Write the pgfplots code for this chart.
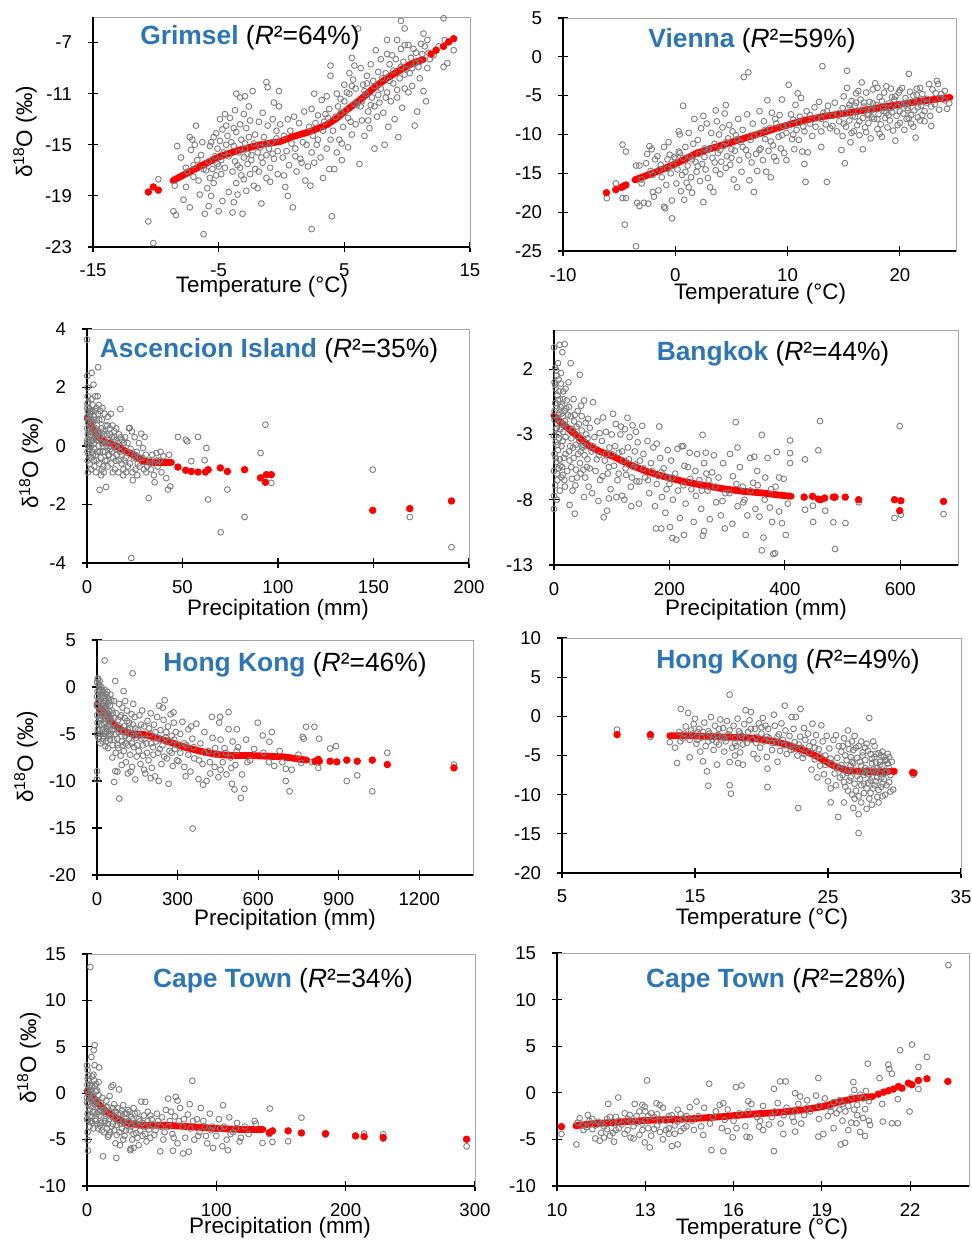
\documentclass[border=0pt]{standalone}
\usepackage{fontspec}
\setmainfont{Liberation Sans}
\usepackage{pgfplots}
\pgfplotsset{compat=1.18}
\definecolor{ttl}{RGB}{46,117,182}
\definecolor{ptgray}{RGB}{125,125,125}
\pgfplotsset{
  panel/.style={
    scale only axis, anchor=north west, clip=false,
    axis line style={black!35},
    tick pos=left, tick align=center, major tick length=5pt,
    major tick style={black, line width=0.6pt},
    tick label style={font=\fontsize{9.3}{11}\selectfont},
    xticklabel style={yshift=-2.5pt},
    yticklabel style={xshift=-4.5pt},
    /pgf/number format/assume math mode=true,
    /pgf/number format/1000 sep={},
  },
  gray pts/.style={only marks, mark=o, mark size=1.45pt,
    mark options={draw=ptgray, line width=0.45pt}},
  red dots/.style={only marks, mark=*, mark size=1.65pt, red},
  red line/.style={red, line width=3.4pt, line cap=round, line join=round, no markers},
}
\newcommand{\axlines}{\draw[black, line width=0.6pt] (rel axis cs:0,1) -- (rel axis cs:0,0) -- (rel axis cs:1,0);}
\newcommand{\ttlfont}{\fontsize{13.2}{15}\selectfont}
\newcommand{\labfont}{\fontsize{11.2}{13}\selectfont}
\begin{document}
\begin{tikzpicture}
\useasboundingbox (0,0) rectangle (486pt,-620pt);

% ---------- Grimsel ----------
\begin{axis}[panel, at={(46.5pt,-8.5pt)}, width=188.5pt, height=115pt,
  xmin=-15, xmax=15, xtick={-15,-5,5,15}, ymin=-23, ymax=-5, ytick={-23,-19,-15,-11,-7}]
\addplot[gray pts] coordinates {
(-10.6,-21.0) (-10.2,-22.7) (-9.8,-17.7) (-8.6,-20.2) (-8.4,-20.5) (-8.5,-18.2) (-8.3,-15.1) (-8.0,-16.0) (-7.8,-19.3) (-7.6,-18.3) (-7.5,-17.1) (-7.3,-19.9) (-7.2,-15.4) (-7.0,-16.6) (-7.3,-14.4) (-7.1,-14.6) (-6.8,-13.5) (-6.7,-16.2) (-6.6,-17.8) (-6.5,-18.9) (-6.4,-15.8) (-6.2,-16.9)
(-6.2,-22.0) (-6.1,-20.4) (-5.8,-19.8) (-5.6,-19.0) (-5.9,-18.4) (-5.4,-18.0) (-5.7,-17.6) (-5.2,-17.4) (-5.5,-16.9) (-5.0,-16.7) (-5.8,-16.3) (-4.8,-16.2) (-5.3,-15.9) (-4.6,-15.6) (-5.1,-15.3) (-4.4,-15.0) (-5.6,-14.8) (-4.9,-14.7) (-4.3,-14.3) (-5.2,-14.1) (-4.7,-13.8) (-4.4,-13.5) (-4.9,-13.0) (-4.5,-12.6) (-4.1,-12.9) (-5.0,-20.2) (-4.2,-18.7) (-4.7,-19.4)
(-3.9,-20.3) (-3.1,-20.4) (-3.8,-19.5) (-3.5,-18.9) (-2.8,-18.6) (-3.6,-18.0) (-3.0,-17.7) (-2.5,-17.3) (-3.9,-17.1) (-3.3,-16.8) (-2.7,-16.5) (-3.7,-16.3) (-3.0,-16.0) (-2.4,-15.8) (-3.4,-15.6) (-2.9,-15.3) (-3.8,-15.1) (-2.2,-14.9) (-3.2,-14.6) (-2.6,-14.4) (-3.6,-14.0) (-2.8,-13.7) (-3.3,-13.4) (-2.5,-13.1) (-3.0,-12.6) (-3.7,-12.3) (-3.3,-11.3) (-3.6,-11.0) (-2.9,-11.2) (-2.6,-12.0) (-2.3,-10.8) (-2.1,-16.9) (-2.2,-18.2)
(-1.6,-19.6) (-1.9,-18.4) (-1.2,-17.6) (-1.8,-17.1) (-0.9,-16.8) (-1.5,-16.4) (-0.6,-16.1) (-1.2,-15.8) (-0.3,-15.5) (-1.7,-15.2) (-0.8,-14.8) (-1.4,-14.4) (-0.4,-13.9) (-1.1,-13.5) (-0.7,-13.0) (-1.5,-12.5) (-0.2,-12.0) (-1.2,-10.1) (-1.1,-10.5) (-0.2,-10.8) (-0.6,-11.7) (-1.8,-13.2) (-0.9,-17.9) (-0.3,-17.3)
(0.3,-18.3) (0.5,-19.0) (0.9,-19.9) (0.2,-17.4) (1.2,-17.1) (0.6,-16.6) (1.5,-16.1) (0.4,-15.5) (1.1,-15.3) (1.7,-14.8) (0.7,-13.9) (1.4,-13.3) (1.0,-12.8) (1.8,-12.4) (0.1,-16.0) (1.9,-17.8)
(2.4,-21.6) (4.0,-20.6) (2.3,-18.2) (3.3,-17.6) (3.8,-16.9) (2.6,-16.4) (3.1,-16.0) (2.4,-15.6) (3.6,-15.3) (2.8,-15.0) (3.9,-14.6) (2.5,-14.3) (3.3,-13.9) (2.7,-13.3) (3.5,-12.6) (2.4,-12.2) (3.2,-11.5) (2.6,-11.0) (3.9,-9.6) (3.9,-8.8) (3.7,-12.9) (2.9,-12.7) (3.6,-11.2) (2.1,-16.7)
(4.2,-16.9) (4.8,-16.2) (4.4,-15.6) (5.3,-15.2) (4.6,-14.6) (5.6,-14.2) (4.9,-13.6) (5.5,-13.2) (4.3,-12.8) (5.1,-12.3) (5.8,-11.8) (4.7,-11.4) (5.4,-11.0) (5.9,-10.6) (5.0,-10.3) (5.7,-9.9) (5.4,-9.4) (5.8,-8.8) (5.6,-8.2) (6.1,-5.9) (4.5,-12.0) (5.2,-10.9)
(6.2,-16.5) (7.4,-15.3) (6.6,-14.3) (7.0,-13.7) (6.4,-13.1) (7.6,-12.8) (6.9,-12.4) (6.3,-12.0) (7.8,-11.7) (7.2,-11.3) (6.7,-11.0) (7.9,-10.6) (6.5,-10.3) (7.3,-10.0) (6.8,-9.6) (7.7,-9.3) (6.3,-9.0) (7.1,-8.7) (7.9,-8.3) (7.5,-7.6) (6.6,-10.8) (7.4,-12.0)
(8.2,-15.0) (9.3,-14.4) (8.5,-13.6) (9.0,-13.0) (8.1,-12.5) (9.6,-12.1) (8.7,-11.6) (9.2,-11.3) (8.4,-10.9) (9.8,-10.6) (8.9,-10.2) (9.4,-9.8) (8.3,-9.4) (9.9,-9.1) (8.6,-8.7) (9.1,-8.3) (8.4,-7.9) (9.5,-7.5) (8.4,-6.8) (9.2,-6.8) (9.8,-7.2) (9.5,-5.3) (9.8,-5.9) (8.8,-8.0) (9.7,-8.5)
(10.6,-13.5) (10.8,-12.4) (11.5,-11.6) (11.3,-10.8) (10.4,-10.4) (11.0,-9.8) (10.2,-9.4) (11.6,-9.0) (10.7,-8.6) (10.3,-8.2) (11.2,-7.9) (10.5,-7.5) (11.1,-7.1) (11.6,-6.8) (11.3,-6.3) (10.9,-8.9) (11.8,-8.3)
(12.1,-8.0) (12.9,-8.9) (13.2,-8.6) (13.7,-7.6) (12.5,-7.3) (13.0,-6.8) (12.9,-5.1)
(-7.6,-16.8) (-7.0,-17.5) (-6.9,-15.0) (-6.3,-14.8) (-6.0,-17.0) (-5.7,-15.1) (-5.4,-14.4) (-5.1,-16.5) (-4.8,-17.3) (-4.5,-16.8) (-4.2,-15.9) (-4.0,-14.8) (-3.8,-13.7) (-3.5,-16.6) (-3.2,-17.4) (-2.9,-14.9) (-2.7,-15.7) (-2.4,-16.2) (-2.1,-14.2) (-1.9,-15.6) (-1.6,-16.0) (-1.3,-14.9) (-1.0,-15.3) (-0.7,-15.7) (-0.4,-14.5) (-0.1,-13.4) (0.2,-14.3) (0.5,-13.0) (0.8,-14.9) (1.1,-15.9) (1.6,-16.4) (2.0,-15.0) (2.2,-13.6) (2.9,-14.6) (3.4,-13.2) (3.8,-12.2) (4.1,-13.9) (4.4,-11.0) (4.7,-12.5) (5.0,-11.6) (5.3,-12.9) (5.6,-10.4) (6.0,-11.9) (6.4,-11.6) (6.8,-10.2) (7.1,-11.9) (7.4,-10.4) (7.7,-11.1) (8.0,-9.8) (8.3,-11.3) (8.6,-10.0) (8.9,-9.2) (9.2,-10.7) (9.5,-8.9) (9.8,-9.5) (10.1,-10.9) (10.4,-9.0) (10.7,-7.8) (11.0,-8.5) (11.4,-7.3) (11.7,-7.8) (10.1,-7.2) (6.9,-13.1) (5.9,-13.4) (4.8,-14.9)
};
\addplot[red line] coordinates {
(-8.63,-17.8) (-6.5,-16.7) (-4.91,-15.92) (-3.32,-15.4) (-1.73,-15.01) (-0.13,-14.75) (0.93,-14.36) (2.26,-13.97) (3.58,-13.45) (4.38,-12.93) (5.18,-12.28) (6.24,-11.5) (7.3,-10.59) (8.36,-9.81) (9.42,-9.16) (10.48,-8.59) (11.28,-8.33)
};
\addplot[red dots] coordinates {
(-10.6,-18.7) (-10.2,-18.3) (-9.8,-18.55) (11.9,-7.9) (12.3,-7.6) (12.9,-7.3) (13.3,-6.95) (13.7,-6.7)
};
\axlines
\end{axis}

% ---------- Vienna ----------
\begin{axis}[panel, at={(281.5pt,-9pt)}, width=196.5pt, height=116.5pt,
  xmin=-10, xmax=25, xtick={-10,0,10,20}, ymin=-25, ymax=5, ytick={-25,-20,...,5}]
\addplot[gray pts] coordinates {
(-6.1,-18.2) (-5.3,-16.3) (-4.7,-11.3) (-4.4,-12.2) (-4.7,-18.2) (-4.4,-18.2) (-4.5,-21.6) (-3.5,-24.4) (-3.5,-14.0) (-3.2,-14.0) (-3.4,-18.8) (-3.2,-19.2) (-3.0,-15.8) (-3.0,-16.3)
(-2.8,-18.8) (-2.4,-18.9) (-2.5,-12.5) (-2.3,-11.5) (-2.1,-11.9) (-2.6,-13.7) (-2.2,-14.7) (-2.0,-17.4) (-1.9,-18.0) (-1.8,-13.2) (-1.6,-12.8) (-1.4,-14.5) (-1.2,-15.5) (-1.0,-11.6) (-0.9,-19.5) (-1.0,-19.3) (-0.8,-16.5) (-0.7,-13.2) (-0.5,-12.6) (-0.6,-11.0) (-0.4,-15.0) (-0.3,-20.8) (-0.3,-18.5) (-0.2,-14.0) (-0.1,-12.9) (-1.5,-17.2) (-2.0,-15.2)
(0.1,-16.3) (0.2,-14.5) (0.3,-12.2) (0.4,-10.0) (0.5,-17.3) (0.6,-15.2) (0.7,-6.3) (0.7,-13.0) (0.8,-18.4) (0.9,-11.6) (1.0,-16.2) (1.1,-14.0) (1.2,-9.8) (1.3,-12.8) (1.4,-15.5) (1.5,-17.5) (1.6,-11.2) (1.7,-8.0) (1.8,-13.5) (1.9,-14.8) (2.0,-10.7) (2.1,-12.5) (2.2,-16.0) (2.3,-9.2) (2.4,-13.8) (2.5,-18.7) (2.6,-11.8) (2.7,-14.5) (2.8,-8.6) (2.9,-12.0) (2.9,-15.6) (1.2,-16.8) (0.3,-9.6) (2.5,-7.6)
(3.1,-16.8) (3.2,-9.8) (3.3,-13.0) (3.4,-17.4) (3.5,-11.2) (3.6,-14.6) (3.7,-8.3) (3.8,-12.4) (3.9,-10.0) (4.0,-15.1) (4.1,-13.5) (4.2,-9.1) (4.3,-11.5) (4.4,-7.3) (4.5,-14.3) (4.6,-12.8) (4.7,-10.5) (4.8,-8.8) (4.9,-13.9) (5.0,-11.9) (5.1,-9.6) (5.2,-15.8) (5.3,-12.1) (5.4,-10.1) (5.5,-16.8) (5.6,-8.0) (5.7,-13.3) (5.8,-11.0) (5.9,-14.8) (6.0,-9.4) (6.1,-2.6) (6.3,-12.0) (6.4,-7.4) (6.5,-2.0) (6.6,-15.9) (6.7,-10.7) (6.8,-13.6) (7.0,-17.4) (6.9,-8.6) (3.6,-6.9) (4.5,-6.2)
(7.2,-12.5) (7.3,-14.7) (7.4,-9.9) (7.5,-7.0) (7.6,-11.8) (7.8,-13.3) (7.9,-8.3) (8.0,-10.6) (8.1,-14.8) (8.2,-5.6) (8.3,-12.1) (8.4,-9.2) (8.5,-15.5) (8.6,-7.2) (8.7,-11.4) (8.8,-12.9) (8.9,-8.0) (9.0,-13.4) (9.2,-10.3) (9.3,-7.5) (9.4,-11.8) (9.5,-5.5) (9.6,-8.9) (9.7,-12.4) (9.9,-9.8) (9.9,-13.3) (10.1,-3.6) (10.3,-7.4) (10.4,-10.6)
(10.5,-8.1) (10.6,-11.9) (10.7,-6.2) (10.8,-9.4) (10.9,-4.7) (11.0,-10.7) (11.1,-7.7) (11.2,-5.3) (11.3,-12.2) (11.4,-9.0) (11.5,-13.8) (11.6,-16.1) (11.7,-7.0) (11.8,-12.3) (12.0,-8.6) (12.2,-10.2) (12.4,-6.5) (12.6,-7.9) (12.8,-5.8) (13.0,-11.6) (13.1,-1.2) (13.0,-9.6) (13.2,-7.2) (13.4,-8.7) (13.5,-16.1) (13.6,-6.3) (13.8,-9.2) (14.0,-7.6) (14.2,-5.9) (14.4,-9.6) (14.6,-8.3) (14.8,-12.0) (14.9,-6.6) (14.9,-10.2)
(15.0,-5.1) (15.1,-7.3) (15.1,-13.7) (15.2,-9.0) (15.3,-1.8) (15.3,-4.0) (15.4,-6.6) (15.5,-8.2) (15.6,-11.0) (15.7,-5.7) (15.8,-7.6) (15.9,-9.6) (16.0,-6.3) (16.1,-4.7) (16.2,-8.8) (16.3,-7.0) (16.4,-10.1) (16.5,-5.5) (16.6,-3.3) (16.7,-7.9) (16.7,-11.9) (16.8,-6.4) (16.9,-9.1) (17.0,-4.6) (17.1,-7.3) (17.2,-8.5) (17.3,-5.8) (17.4,-10.5) (17.5,-6.9) (17.6,-4.2) (17.7,-8.0) (17.8,-3.4) (17.9,-6.2) (18.0,-9.3) (18.1,-7.4) (18.2,-5.2) (18.3,-8.7) (18.4,-10.3) (18.5,-6.6) (18.6,-4.6) (18.7,-7.9) (18.8,-3.8) (18.9,-9.1) (19.0,-6.0) (19.1,-8.2) (19.2,-4.1) (19.3,-7.1) (19.4,-9.5) (19.5,-5.5) (19.6,-10.8) (19.7,-7.6) (19.8,-6.4) (19.9,-4.6) (20.0,-8.5)
(20.1,-6.1) (20.2,-4.0) (20.3,-7.3) (20.4,-9.4) (20.5,-5.3) (20.6,-8.0) (20.7,-6.6) (20.8,-2.2) (20.9,-4.5) (21.0,-7.5) (21.1,-5.8) (21.2,-9.0) (21.3,-6.9) (21.4,-10.4) (21.5,-4.1) (21.6,-7.8) (21.7,-5.6) (21.8,-8.2) (21.9,-6.3) (22.0,-4.8) (22.2,-7.0) (22.4,-5.4) (22.6,-3.5) (22.7,-7.6) (22.8,-8.9) (22.9,-4.2) (23.1,-6.1) (23.3,-3.1) (23.4,-3.5) (23.5,-6.8) (23.7,-4.8) (24.0,-5.6) (24.4,-6.0) (24.2,-6.7) (21.5,-4.9) (20.6,-5.9) (19.3,-5.2) (18.6,-7.0) (17.4,-6.8) (16.1,-5.9)
(-1.3,-13.9) (-0.7,-14.4) (0.0,-13.1) (0.4,-12.4) (0.9,-14.8) (1.5,-13.2) (2.0,-14.1) (2.6,-12.9) (3.0,-11.8) (3.5,-13.6) (4.0,-12.0) (4.5,-11.0) (5.0,-13.0) (5.5,-10.6) (6.0,-11.6) (6.5,-12.7) (7.0,-10.2) (7.5,-12.0) (8.0,-9.4) (8.5,-10.9) (9.0,-8.6) (9.5,-10.1) (10.0,-8.8) (10.5,-10.0) (11.0,-8.5) (11.5,-9.6) (12.0,-7.5) (12.5,-9.0) (13.0,-8.0) (13.5,-7.0) (14.0,-8.9) (14.5,-7.3) (15.0,-8.6) (15.5,-6.2) (16.0,-7.7) (16.4,-8.3) (16.8,-5.9) (17.2,-7.5) (17.6,-6.0) (18.0,-8.0) (18.4,-5.7) (18.8,-7.2) (19.2,-6.6) (19.6,-5.1) (20.0,-7.0) (20.4,-6.0) (20.8,-7.9) (21.2,-5.0) (21.6,-6.5) (22.0,-7.5) (22.4,-5.9) (22.8,-6.4) (23.2,-4.7) (23.6,-5.3) (24.0,-4.4) (17.0,-9.7) (18.2,-9.9) (19.8,-8.8) (21.0,-8.6) (22.2,-8.3) (15.7,-9.8) (16.3,-4.4) (18.0,-4.0) (20.0,-4.3) (21.8,-4.0) (17.5,-7.8) (19.0,-7.5) (20.7,-6.9)
};
\addplot[red line] coordinates {
(-3.6,-15.84) (-1.67,-14.8) (0.15,-13.7) (1.9,-12.4) (4.3,-11.3) (6.67,-10.26) (9.05,-9.18) (11.43,-8.19) (13.2,-7.68) (16.2,-7.03) (19.17,-6.3) (22.14,-5.66) (24.46,-5.23)
};
\addplot[red dots] coordinates {
(-6.13,-17.5) (-5.3,-17.1) (-4.79,-16.8) (-4.64,-16.7) (-4.4,-16.5)
};
\axlines
\end{axis}

% ---------- Ascencion Island ----------
\begin{axis}[panel, at={(43.5pt,-164.5pt)}, width=191pt, height=117pt,
  xmin=0, xmax=200, xtick={0,50,...,200}, ymin=-4, ymax=4, ytick={-4,-2,...,4}]
\addplot[gray pts] coordinates {
(0,3.64) (0.2,2.4) (0.3,2.0) (0.4,1.7) (0.2,1.45) (0.5,1.2) (0.3,1.0) (0.6,0.8) (0.1,0.6) (0.4,0.4) (0.2,0.2) (0.5,0.0) (0.3,-0.2) (0.1,0.1) (0.5,-0.9) (0.8,0.9) (1.0,1.3) (1.2,0.5) (1.1,0.2) (1.3,-0.1) (1.5,0.7) (1.7,1.1) (1.6,0.3) (1.9,-0.4) (2.0,0.9) (2.2,0.0) (2.3,1.6) (2.5,2.5) (2.4,0.5) (2.7,-0.2) (2.9,0.8) (3.0,1.4) (3.2,0.2) (3.4,2.1) (3.5,-0.5) (3.6,0.6) (3.8,1.0) (4.0,-0.1) (4.1,0.4) (4.3,1.7) (4.5,0.9) (4.7,-0.3) (4.8,0.2) (5.0,1.3) (5.8,2.69) (5.3,0.7) (5.5,-0.2) (5.7,0.5) (5.9,1.1)
(6.1,0.0) (6.3,-0.6) (6.6,-1.5) (6.4,0.9) (6.8,0.3) (7.0,1.2) (7.2,-0.4) (7.5,0.6) (7.7,-0.8) (7.9,0.1) (8.1,1.3) (8.3,-0.2) (8.6,0.5) (8.8,-0.9) (9.0,0.2) (9.2,1.1) (9.5,-0.5) (9.7,0.7) (10.0,-1.4) (10.2,0.0) (10.5,0.4) (10.8,-0.7) (11.0,1.0) (11.3,0.2) (11.6,-0.3) (11.9,0.6) (12.2,-0.1) (12.5,1.1) (12.8,-0.6) (13.1,0.3) (13.4,0.7) (13.7,-0.4) (14.0,0.0) (14.3,0.5) (14.6,-0.8) (14.9,0.2)
(15.3,0.6) (15.6,-0.3) (16.0,0.1) (16.4,-0.9) (16.8,0.4) (17.5,1.26) (17.2,-0.2) (17.7,0.3) (18.1,-0.6) (18.5,0.2) (18.9,-1.0) (19.3,0.1) (19.6,-0.5) (20.0,0.3) (20.5,-0.9) (21.0,-0.2) (21.5,-0.7) (22.0,0.6) (22.3,0.62) (22.8,-0.1) (23.2,-3.83) (23.5,0.5) (24.0,-1.17) (24.4,-0.4) (24.9,0.3) (25.4,-0.8) (26.0,-0.2) (26.6,-0.6) (27.2,0.1) (27.8,-0.4) (28.4,0.42) (29.3,-0.07) (29.8,-0.8) (30.2,0.31)
(30.8,-0.3) (31.5,-0.7) (32.3,-1.78) (32.9,-0.5) (33.5,-0.8) (34.2,-0.3) (35.0,-1.0) (35.4,-1.24) (36.3,-0.24) (37.0,-0.7) (38.1,-0.5) (39.0,-0.9) (40.0,-0.35) (41.5,-1.1) (42.4,-1.49) (43.0,-0.3) (43.6,-1.38) (47.6,0.31) (51.7,0.22) (52.5,0.16) (54.6,-0.52) (58.1,0.31) (61.6,-0.49) (62.5,-0.07) (63.4,-1.83) (70.0,-2.95) (73.5,-1.49) (82.5,-2.43) (90.9,-0.24) (93.4,0.73) (96.5,-1.26) (149.6,-0.81) (169,-2.43) (190.8,-3.46)
(0.1,1.3) (0.3,-0.5) (0.6,0.0) (0.7,1.5) (0.9,-0.3) (1.0,0.5) (1.4,1.0) (1.5,-0.6) (1.8,0.4) (2.1,1.2) (2.2,-0.8) (2.6,0.2) (2.8,1.2) (3.1,-0.3) (3.3,0.9) (3.7,0.1) (3.9,-0.7) (4.2,1.2) (4.4,0.3) (4.6,-0.9) (4.9,0.6) (5.1,-0.5) (5.4,0.3) (5.6,1.7) (6.0,0.5) (6.2,1.4) (6.7,-0.2) (7.1,0.4) (7.4,-1.0) (7.8,0.9) (8.2,0.0) (8.5,-0.7) (8.9,0.4) (9.3,-0.2) (9.8,0.1) (10.3,-0.5) (10.7,0.7) (11.2,-0.3) (11.8,0.0) (12.3,0.4) (12.9,-0.2) (13.5,-0.9) (14.2,0.3) (15.0,-0.5) (15.8,-0.1) (16.6,-0.5) (17.4,0.0) (18.3,-0.3) (19.1,-0.8) (20.2,-0.4) (21.2,0.1) (22.5,-0.6) (23.8,-0.9) (25.0,-0.3) (26.3,-1.0) (27.5,-0.7) (29.0,-0.4) (31.0,-0.9) (33.0,-0.6) (36.5,-0.5) (38.5,-0.2)
};
\addplot[red line] coordinates {
(0,0.96) (2.3,0.67) (4.9,0.39) (8.4,0.16) (13.6,0.05) (18.8,-0.13) (24.1,-0.3) (29.3,-0.52) (34.6,-0.56) (44.2,-0.56)
};
\addplot[red dots] coordinates {
(47.6,-0.72) (51.7,-0.83) (54.6,-0.87) (58.1,-0.89) (62,-0.89) (63.4,-0.81) (69.8,-0.75) (73.5,-0.87) (82.5,-0.81) (90.8,-1.09) (93.4,-1.24) (93.9,-0.98) (96.5,-0.98) (149.6,-2.2) (169,-2.14) (190.8,-1.88)
};
\axlines
\end{axis}

% ---------- Bangkok ----------
\begin{axis}[panel, at={(277pt,-165pt)}, width=202pt, height=117.5pt,
  xmin=0, xmax=700, xtick={0,200,400,600}, ymin=-13, ymax=5, ytick={-13,-8,-3,2}]
\addplot[gray pts] coordinates {
(0,3.66) (9.8,3.86) (18.5,3.91) (14.5,3.3) (7,2.46) (2,2.1) (5,1.5) (1,1.0) (8,1.2) (12,0.9) (3,0.5) (16,0.3) (6,0.0) (10,-0.3) (2,-0.6) (14,-0.8) (4,-1.0) (18,-1.2) (8,-1.5) (1,-1.9) (12,-2.2) (5,-2.5) (16,-2.8) (0,-3.1) (9,-3.3) (3,-3.6) (13,-3.9) (7,-4.2) (1,-4.5) (17,-4.8) (4,-5.1) (11,-5.4) (0,-5.8) (15,-6.1) (6,-6.5) (2,-6.9) (10,-7.3) (0,-7.7) (5,-8.0) (0,-8.7) (19,-7.0) (13,-6.3) (20,-4.5) (19,-2.0) (6,-3.8) (11,-0.9) (3,-2.6) (15,-1.6) (8,-5.6) (20,0.5) (22,-0.4) (25,1.0) (24,-1.5)
(28.9,2.46) (44.6,1.57) (27,-8.4) (36,-9.07) (52,-7.8) (25,-2.5) (30,-3.3) (33,-4.0) (27,-5.0) (38,-5.7) (31,-6.4) (35,-2.0) (40,-3.1) (42,-4.5) (45,-5.2) (37,-6.9) (48,-2.7) (50,-3.8) (53,-4.6) (46,-6.0) (55,-2.1) (57,-5.5) (41,-1.2) (34,-0.3) (29,-1.6) (58,-3.3) (60,-7.0) (49,-4.0) (44,-3.5) (32,-7.3) (26,-4.3) (39,-2.4) (54,-6.3) (59,-1.8) (47,-0.8) (52,-0.4) (56,-3.0)
(67.7,-0.53) (102.4,-1.42) (127.3,-1.72) (86,-9.35) (92,-8.84) (134,-8.5) (62,-2.5) (65,-4.3) (70,-3.2) (72,-5.8) (75,-2.0) (78,-4.6) (80,-6.5) (83,-3.5) (85,-1.7) (88,-5.0) (90,-2.8) (93,-6.0) (96,-4.0) (98,-7.2) (100,-3.0) (104,-5.4) (107,-2.2) (110,-6.5) (112,-4.4) (115,-3.0) (118,-7.7) (120,-5.0) (123,-2.6) (125,-6.1) (128,-4.0) (131,-3.2) (133,-7.0) (136,-2.3) (138,-5.5) (140,-4.3) (143,-6.6) (145,-3.6) (147,-8.3) (149,-5.0) (66,-7.5) (77,-8.1) (95,-7.9) (108,-7.8) (116,-2.4) (142,-2.8) (122,-8.0)
(152.8,-2.34) (182.3,-2.39) (257.5,-3.03) (176.5,-10.2) (186,-10.2) (201,-10.1) (205,-10.93) (212,-11.06) (225,-10.7) (260,-10.4) (257.5,-10.75) (296,-10.2) (155,-4.5) (158,-6.3) (162,-3.5) (165,-7.5) (168,-5.2) (172,-4.0) (175,-8.5) (178,-3.7) (181,-6.2) (184,-4.8) (187,-7.8) (190,-5.6) (193,-9.0) (197,-4.2) (200,-6.8) (203,-5.0) (206,-8.0) (210,-6.0) (214,-4.1) (218,-9.4) (221,-3.9) (224,-6.9) (228,-8.3) (232,-5.5) (235,-4.4) (238,-7.2) (242,-9.7) (245,-5.8) (248,-4.5) (252,-6.5) (255,-8.7) (260,-5.2) (263,-4.4) (266,-7.3) (270,-9.5) (274,-5.9) (277,-4.6) (281,-8.2) (285,-6.3) (289,-9.2) (293,-5.2) (297,-7.5) (224,-3.9) (264,-6.0) (197,-6.3)
(314.8,-2.06) (360,-3.03) (386,-4.35) (409,-3.46) (409,-4.43) (409,-5.19) (401.6,-10.7) (380,-12.16) (383,-12.1) (360,-11.88) (363,-10.9) (332,-10.7) (309,-9.84) (305,-4.5) (310,-6.2) (318,-8.5) (322,-5.5) (327,-7.0) (335,-9.2) (340,-4.8) (345,-6.7) (349,-8.7) (352,-5.8) (356,-9.3) (366,-6.3) (370,-4.8) (374,-8.6) (378,-9.7) (384,-7.0) (390,-8.9) (395,-9.8) (398,-6.4) (405,-8.3) (347,-4.7) (318,-4.0) (330,-8.0)
(435,-4.91) (458,-4.22) (461,-1.98) (435,-8.77) (448.5,-8.46) (449,-9.7) (470,-8.84) (484,-9.73) (505,-9.79) (487,-11.78) (528,-8.2) (590,-9.4) (601,-9.15) (599,-2.36) (675,-9.1)
(1,-1.2) (2,0.8) (3,-4.8) (4,1.9) (5,-6.0) (6,-1.8) (7,-0.4) (8,-3.0) (9,0.3) (10,-4.9) (11,-2.6) (12,1.7) (13,-1.4) (14,-5.5) (15,-3.5) (16,-0.3) (17,-2.2) (18,-6.5) (20,-3.2) (21,-1.0) (23,-5.8) (26,-0.9) (28,-3.9) (30,-5.5) (32,-2.6) (34,-4.8) (36,-1.5) (38,-3.8) (40,-6.3) (43,-2.2) (46,-4.3) (48,-1.6) (51,-5.7) (55,-3.9) (58,-4.9) (62,-5.6) (68,-3.9) (74,-4.9) (79,-2.9) (84,-6.2) (90,-4.5) (95,-5.5) (100,-4.5) (106,-3.9) (112,-6.0) (118,-4.3) (124,-5.6) (130,-4.9) (135,-6.3) (141,-5.3) (148,-6.6) (155,-5.6) (163,-6.5) (170,-5.8) (178,-6.8) (186,-5.9) (195,-7.2) (205,-6.3) (215,-7.3) (226,-5.4) (236,-6.4) (246,-7.7) (256,-7.3) (268,-6.5) (280,-7.0) (292,-8.1) (304,-7.5) (316,-6.8) (328,-8.2) (340,-7.3) (353,-6.9) (365,-8.0) (376,-7.2) (390,-6.3)
};
\addplot[red line] coordinates {
(0,-1.57) (12.7,-2.13) (27.2,-2.64) (44.6,-3.28) (61.9,-3.92) (79.3,-4.3) (102.4,-4.68) (131.4,-5.32) (160.3,-5.83) (189.2,-6.21) (224,-6.6) (258.7,-6.9) (293.4,-7.16) (328,-7.36) (362.8,-7.49) (386,-7.62) (411,-7.74)
};
\addplot[red dots] coordinates {
(433.4,-7.8) (448,-7.74) (458,-7.95) (462,-8.0) (469,-7.87) (484,-7.8) (487,-7.8) (504.6,-7.8) (527.8,-8.0) (590,-8.0) (601,-8.08) (599,-8.84) (675,-8.13)
};
\axlines
\end{axis}

% ---------- Hong Kong (precipitation) ----------
\begin{axis}[panel, at={(48.5pt,-320pt)}, width=188pt, height=117.5pt,
  xmin=0, xmax=1400, xtick={0,300,...,1200}, ymin=-20, ymax=5, ytick={-20,-15,...,5}]
\addplot[gray pts] coordinates {
(0,0.5) (2,-0.5) (4,0.8) (6,-1.5) (8,0.2) (10,-2.5) (12,-0.8) (14,-3.5) (16,0.0) (18,-1.8) (20,-4.5) (22,-1.0) (24,-2.8) (26,-5.2) (28.5,2.83) (28,-0.3) (30,-3.8) (32,-1.5) (34,-5.8) (36,-2.3) (38,-0.5) (40,-4.2) (42,-1.2) (44,-3.0) (46,-5.0) (48,-2.0) (50,-0.8) (1,-3.0) (3,-4.5) (5,-2.0) (7,-5.5) (9,-3.3) (11,-1.2) (13,-6.0) (15,-2.2) (17,-4.0) (19,-0.3) (21,-5.8) (23,-3.0) (25,-1.7) (27,-4.8) (29,-2.6) (31,-6.3) (33,-3.4) (35,-0.8) (37,-4.7) (39,-2.9) (41,-6.5) (43,-3.6) (45,-1.5) (47,-4.3) (49,-3.2) (0,-8.96) (0,-9.84) (0,-5.0) (0,-2.0) (3,0.9) (6,0.3) (10,0.6)
(68,0.63) (99,-0.43) (132.6,1.45) (68,-8.96) (64,-10.1) (83,-11.87) (52,-5.0) (55,-2.5) (58,-6.2) (60,-3.8) (63,-1.5) (66,-4.5) (70,-7.0) (72,-2.8) (75,-5.5) (78,-3.5) (80,-6.5) (82,-1.8) (85,-4.2) (88,-7.3) (90,-3.0) (93,-5.8) (95,-2.2) (98,-4.8) (100,-6.8) (103,-3.3) (106,-5.2) (108,-8.0) (111,-2.5) (114,-4.5) (117,-6.2) (120,-3.8) (123,-7.2) (126,-5.0) (129,-2.9) (131,-8.5) (134,-4.0) (137,-6.4) (140,-3.2) (142.6,-9.84) (145,-5.4) (148,-7.4) (125,-9.0) (115,-9.2) (135,-1.8) (105,-1.5) (92,-8.3) (76,-9.0) (57,-7.5)
(152,-4.6) (155,-6.8) (158,-3.0) (162,-8.2) (165,-5.5) (168,-2.5) (172,-7.3) (176,-4.2) (180,-9.2) (184,-6.0) (188,-3.6) (192,-7.8) (196,-5.0) (200,-2.8) (204,-8.6) (208,-6.4) (212,-4.0) (216,-9.5) (220,-5.8) (224,-3.2) (228,-7.0) (232,-2.0) (236,-4.6) (240,-8.2) (244,-6.2) (248,-3.5) (252,-1.4) (256,-5.4) (260,-7.6) (264,-4.2) (266.5,-10.3) (270,-6.8) (274,-2.9) (278,-5.2) (282,-8.4) (286,-3.8) (290,-6.6) (294,-4.8) (298,-7.8) (230,-10.0) (200,-9.7) (175,-8.8) (245,-2.2) (285,-2.7)
(303.7,-7.9) (356,-15.06) (427.7,-3.17) (458.7,-3.17) (489.7,-2.67) (520.7,-4.5) (512,-10.9) (535.5,-11.8) (549,-10.84) (502,-10.3) (310,-5.0) (318,-3.7) (325,-8.5) (333,-6.2) (340,-4.5) (348,-9.0) (355,-5.5) (362,-7.6) (370,-3.9) (378,-9.8) (385,-6.0) (393,-8.2) (400,-4.8) (408,-10.0) (415,-6.8) (422,-9.2) (430,-5.4) (438,-8.5) (445,-7.2) (452,-9.6) (460,-5.6) (468,-8.0) (475,-6.5) (482,-9.3) (490,-4.5) (498,-7.5) (505,-5.8) (515,-8.3) (525,-6.4) (540,-9.3) (555,-5.6) (570,-7.8) (585,-6.6) (598.7,-3.8) (455,-3.8) (350,-4.2) (395,-10.4) (330,-9.5)
(617,-5.16) (651,-4.8) (642,-5.83) (778.5,-4.23) (809.5,-4.23) (766,-5.3) (770,-5.5) (827,-5.5) (868,-6.54) (890,-6.29) (1081,-7.0) (1329,-8.25) (930,-10.0) (969,-9.4) (1025,-11.1) (703,-10.0) (717,-11.1) (725,-8.8) (703,-8.7) (824,-8.6) (760,-8.07) (620,-7.0) (640,-8.0) (660,-8.4) (680,-6.8) (690,-8.0) (750,-7.2) (800,-8.0)
(0,-1.0) (2,-3.8) (4,-1.6) (5,-5.3) (7,-0.3) (8,-2.6) (10,-4.6) (12,-3.3) (13,-0.4) (15,-5.0) (17,-1.0) (18,-3.1) (20,-2.0) (22,-5.5) (23,-0.6) (25,-3.9) (27,-2.0) (29,-5.0) (30,-1.2) (32,-3.4) (34,-2.0) (36,-4.4) (38,-3.0) (40,-1.8) (42,-5.2) (44,-4.0) (46,-2.6) (48,-5.6) (50,-3.5) (53,-1.4) (56,-4.6) (59,-2.8) (62,-5.6) (65,-3.3) (69,-5.0) (73,-4.2) (77,-6.2) (81,-4.8) (86,-3.2) (91,-5.2) (96,-6.2) (101,-4.2) (107,-6.0) (112,-3.6) (118,-5.5) (124,-4.4) (130,-6.0) (136,-5.2) (143,-4.4) (150,-6.2) (157,-5.2) (164,-4.0) (171,-6.2) (178,-5.5) (186,-7.0) (194,-4.4) (202,-6.0) (210,-7.2) (218,-4.8) (226,-5.4) (234,-6.6) (242,-5.6) (250,-7.4) (258,-4.8) (268,-5.8) (278,-7.0) (288,-5.6) (298,-6.2) (310,-7.0) (325,-6.0) (340,-7.2) (360,-6.4) (380,-7.8) (400,-7.0) (420,-8.0) (440,-6.5) (460,-8.8) (480,-7.0) (500,-8.6) (520,-6.8) (560,-8.0)
};
\addplot[red line] coordinates {
(0,-1.85) (12,-2.3) (37,-3.1) (68,-4.16) (99,-4.7) (136,-5.05) (174,-5.05) (211,-5.3) (260,-5.76) (322,-6.36) (384,-6.83) (446,-7.18) (508,-7.29) (570,-7.29) (632,-7.36) (694,-7.43) (781,-7.78)
};
\addplot[red dots] coordinates {
(812,-7.9) (824,-7.7) (828,-7.9) (868,-7.9) (893,-7.96) (930,-7.78) (969,-7.9) (1025,-7.78) (1081,-8.25) (1329,-8.6)
};
\axlines
\end{axis}

% ---------- Hong Kong (temperature) ----------
\begin{axis}[panel, at={(281pt,-319pt)}, width=199.5pt, height=117.5pt,
  xmin=5, xmax=35, xtick={5,15,25,35}, ymin=-20, ymax=10, ytick={-20,-15,...,10}]
\addplot[gray pts] coordinates {
(13.1,-3.3) (13.5,-4.0) (13.65,-5.96) (13.93,0.94) (14.48,0.43) (14.6,-5.23) (13.8,-2.0) (14.1,-2.8) (14.3,-1.3) (14.6,-3.0) (14.8,-2.2) (15.0,-0.3) (15.1,-3.5) (15.3,-1.6) (15.5,-2.7) (15.6,-5.74) (15.7,-0.8) (15.8,-3.8) (15.9,-7.02) (16.0,-8.85) (16.0,-1.9) (16.2,-0.1) (16.3,-3.0) (16.4,-4.3) (16.5,-1.2) (16.66,-6.17) (16.7,-2.4) (16.8,-3.6) (16.9,-0.4) (15.4,-4.5) (14.9,-1.0) (16.1,-2.2) (16.6,-3.3) (15.2,-2.0) (13.9,-3.2)
(17.6,2.77) (17.6,-5.83) (17.6,-8.8) (17.7,-9.87) (18.24,-5.96) (18.6,-6.17) (18.8,0.77) (19.2,0.55) (20.45,-6.68) (20.45,-9.02) (20.93,0.21) (21.75,1.36) (17.1,-1.5) (17.3,-3.2) (17.4,-0.6) (17.5,-2.3) (17.8,-4.0) (17.9,-1.2) (18.0,-2.8) (18.1,-3.8) (18.2,-0.3) (18.3,-1.9) (18.4,-4.6) (18.5,-2.5) (18.7,-1.0) (18.9,-3.4) (19.0,-2.0) (19.1,-0.5) (19.3,-3.0) (19.4,-4.8) (19.5,-1.6) (19.6,-2.6) (19.8,-0.9) (19.9,-4.0) (20.0,-2.2) (20.1,-0.2) (20.2,-3.2) (20.4,-5.2) (20.5,-1.6) (20.6,-2.8) (20.8,-4.3) (21.0,-1.2) (21.1,-3.4) (21.3,-2.3) (21.4,-4.4) (21.5,-0.9) (21.7,-3.7) (21.8,-1.8) (21.9,-4.8) (17.2,-4.5) (18.0,-5.0) (19.7,-5.4) (21.2,-5.8) (17.0,-2.6) (18.6,-3.6) (20.3,-1.2)
(22.26,-0.09) (22.58,-0.09) (22.93,0.94) (22.76,-11.7) (23.1,-5.32) (23.76,-6.8) (25.2,-10.98) (25.77,-12.85) (23.83,-0.94) (24.5,-1.15) (22.1,-2.5) (22.2,-4.3) (22.4,-1.6) (22.5,-3.3) (22.7,-5.0) (22.9,-2.6) (23.0,-4.0) (23.2,-1.5) (23.3,-3.0) (23.5,-2.2) (23.6,-4.6) (23.9,-3.3) (24.0,-5.5) (24.1,-2.4) (24.3,-4.2) (24.4,-6.3) (24.6,-3.2) (24.7,-7.4) (24.8,-5.0) (24.9,-2.5) (25.0,-8.3) (25.1,-4.1) (25.3,-6.0) (25.4,-3.0) (25.5,-7.3) (25.6,-8.8) (25.7,-5.3) (25.8,-3.8) (25.9,-6.6) (25.6,-2.4) (24.2,-7.8) (25.2,-9.2)
(26.5,-1.8) (28.1,-0.2) (27.3,-14.9) (26.9,-11.7) (29.9,-9.36) (26.0,-4.5) (26.1,-7.5) (26.2,-2.8) (26.3,-9.0) (26.4,-5.6) (26.5,-3.5) (26.6,-8.2) (26.7,-6.3) (26.8,-10.0) (26.9,-4.3) (27.0,-7.0) (27.0,-2.5) (27.1,-9.5) (27.2,-5.3) (27.3,-3.8) (27.4,-8.0) (27.5,-6.3) (27.5,-11.0) (27.6,-4.6) (27.7,-7.5) (27.7,-9.8) (27.8,-5.6) (27.9,-3.5) (28.0,-8.5) (28.0,-6.8) (28.1,-10.5) (28.2,-4.8) (28.3,-7.8) (28.3,-6.0) (28.4,-9.2) (28.5,-5.2) (28.5,-3.8) (28.6,-8.3) (28.7,-6.6) (28.7,-10.3) (28.8,-4.7) (28.9,-7.3) (28.9,-5.8) (29.0,-9.0) (29.1,-6.3) (29.1,-4.5) (29.2,-8.0) (29.3,-5.6) (29.3,-10.0) (29.4,-7.0) (29.5,-6.0) (29.6,-5.2) (29.6,-8.4) (29.7,-7.5) (27.3,-12.5) (26.2,-11.0) (28.3,-11.3) (27.8,-4.0) (26.8,-5.8) (28.6,-7.0) (27.5,-8.8) (26.5,-6.8) (29.0,-5.0)
(31.4,-7.45) (9.14,-1.7) (11.65,-2.64)
(26.0,-6.2) (26.1,-3.8) (26.2,-8.4) (26.3,-5.0) (26.4,-7.2) (26.5,-9.5) (26.6,-4.2) (26.7,-7.8) (26.8,-3.2) (26.9,-6.0) (27.0,-8.6) (27.1,-4.0) (27.2,-7.6) (27.3,-10.2) (27.4,-5.8) (27.5,-3.2) (27.6,-7.0) (27.7,-8.6) (27.8,-6.6) (27.9,-9.2) (28.0,-4.4) (28.1,-7.4) (28.2,-9.8) (28.3,-5.4) (28.4,-6.8) (28.5,-8.8) (28.6,-4.8) (28.7,-7.8) (28.8,-9.4) (28.9,-6.2) (29.0,-7.8) (29.1,-10.2) (29.2,-5.2) (29.3,-7.2) (29.4,-8.8) (29.5,-4.8) (29.6,-6.6) (29.7,-9.6) (29.8,-5.8) (29.4,-5.6) (28.8,-11.0) (27.9,-11.8) (27.0,-10.5) (28.4,-3.2) (26.7,-5.2) (27.6,-5.0) (28.2,-8.2) (29.1,-8.6) (27.8,-7.2) (28.6,-5.9)
(14.2,-2.2) (14.7,-1.8) (15.2,-3.0) (15.6,-2.0) (16.0,-3.2) (16.4,-2.6) (16.8,-1.6) (17.2,-2.8) (17.6,-1.8) (18.0,-3.4) (18.4,-2.2) (18.8,-2.8) (19.2,-1.6) (19.6,-3.4) (20.0,-1.4) (20.4,-2.6) (20.8,-3.4) (21.2,-2.6) (21.6,-3.0) (22.0,-3.6) (22.4,-4.2) (22.8,-3.6) (23.2,-4.8) (23.6,-3.8) (24.0,-4.0) (24.4,-5.0) (24.8,-6.2) (25.2,-5.4) (25.6,-6.4) (25.9,-7.8)
};
\addplot[red line] coordinates {
(13.1,-2.47) (14.6,-2.47) (15.86,-2.55) (17.1,-2.64) (18.37,-2.68) (19.6,-2.85) (21.0,-3.2) (22.13,-3.74) (23.38,-4.47) (24.4,-5.32) (25.4,-6.3) (26.4,-6.9) (27.4,-7.02) (28.65,-7.1) (29.65,-7.02)
};
\addplot[red dots] coordinates {
(9.14,-2.34) (11.65,-2.34) (29.96,-7.02) (31.36,-7.15) (31.46,-7.23)
};
\axlines
\end{axis}

% ---------- Cape Town (precipitation) ----------
\begin{axis}[panel, at={(43.5pt,-477pt)}, width=194pt, height=116pt,
  xmin=0, xmax=300, xtick={0,100,200,300}, ymin=-10, ymax=15, ytick={-10,-5,...,15}]
\addplot[gray pts] coordinates {
(2.6,13.6) (5.9,5.18) (5.2,4.64) (3.4,3.9) (5.9,3.02) (9.3,2.77) (0.8,-5.07) (0.8,-6.2) (0,3.0) (0.5,2.5) (1.0,1.9) (1.5,1.3) (0.3,0.9) (2.0,0.6) (0.7,0.3) (1.2,-0.2) (2.5,-0.6) (0.2,-1.0) (3.0,-1.4) (1.8,-1.8) (0.5,-2.2) (3.5,-2.6) (1.0,-2.9) (0,-2.8) (0.5,-4.2) (4.0,0.8) (4.5,-0.4) (5.0,-1.1) (5.5,1.4) (6.0,-2.0) (6.5,0.2) (7.0,-2.8) (7.5,-0.9) (8.0,-3.3) (8.5,-1.5) (9.0,-0.2) (9.5,-2.4) (10.0,-3.5) (3.0,0.2) (6.0,0.8) (8.0,0.3) (4.0,-3.2) (2.0,-3.6) (5.0,2.0) (7.0,1.0) (9.0,1.2)
(12.4,-6.8) (22.7,-6.98) (18.8,0.68) (20.1,0.86) (24.8,0.4) (16.2,-4.7) (33.8,-5.97) (33.5,-6.15) (45.1,-0.94) (10.5,-1.0) (11.0,-2.5) (11.5,-4.0) (12.0,-0.5) (13.0,-1.8) (13.5,-3.2) (14.0,-2.2) (15.0,-0.8) (15.5,-3.8) (16.0,-1.5) (17.0,-2.8) (17.5,-0.3) (18.0,-4.2) (19.0,-2.0) (20.0,-3.3) (21.0,-1.2) (22.0,-2.6) (23.0,-4.5) (23.5,-1.6) (24.5,-3.0) (25.5,-5.6) (26.0,-2.2) (27.0,-3.8) (28.0,-1.3) (29.0,-4.6) (30.0,-2.7) (31.0,-3.5) (32.0,-1.8) (33.0,-4.0) (34.0,-2.5) (35.0,-5.0) (36.0,-1.6) (37.0,-3.2) (38.0,-4.3) (39.0,-2.1) (40.0,-5.6) (41.0,-3.0) (42.0,-0.9) (43.0,-4.6) (44.0,-2.4) (45.0,-3.6) (46.0,-5.2) (47.0,-2.0) (48.0,-3.9) (49.0,-4.8) (50.0,-2.8) (22.0,-5.4) (36.0,-5.9) (28.0,-5.0)
(62.7,-0.58) (68.6,-0.4) (79.4,-1.19) (81.5,1.33) (105.2,-1.3) (56.7,-6.26) (66.5,-6.2) (74.3,-6.5) (78.7,-6.3) (97.5,-5.9) (104.7,-5.72) (109,-6.15) (135.7,-5.36) (129.7,-2.99) (130.5,-3.3) (52,-4.5) (54,-2.2) (57,-3.6) (59,-5.0) (61,-1.8) (64,-3.0) (66,-4.4) (68,-2.5) (70,-5.4) (72,-1.6) (74,-3.6) (76,-4.8) (78,-2.3) (80,-3.8) (83,-5.0) (85,-2.8) (87,-4.2) (90,-3.0) (92,-4.6) (95,-2.2) (97,-3.6) (100,-4.6) (102,-2.8) (106,-3.6) (108,-5.0) (110,-2.6) (113,-4.2) (116,-3.2) (119,-4.8) (122,-3.6) (125,-4.4) (70,-0.8) (88,-1.6) (93,-5.4) (118,-5.2)
(141.3,-1.65) (143.4,-5.25) (155.5,-5.18) (165.8,-2.63) (184.4,-4.46) (214.3,-4.35) (229,-4.42) (293.5,-5.72) (141,-4.4) (229,-4.9)
(0,-0.5) (0.5,1.5) (1,-1.2) (1.5,0.0) (2,-2.5) (2.5,0.9) (3,-3.0) (3.5,-0.8) (4,1.8) (4.5,-2.0) (5,-3.8) (5.5,-0.5) (6,-1.2) (6.5,-3.0) (7,0.2) (7.5,-2.2) (8,-0.8) (8.5,-3.8) (9,-2.0) (10,-1.8) (11,-3.2) (12,-2.0) (13,-4.2) (14,-3.0) (15,-1.5) (16,-3.3) (17,-4.5) (18,-2.5) (19,-3.6) (20,-1.6) (21,-4.0) (22,-2.0) (23,-3.4) (24,-2.3) (25,-4.2) (26,-3.3) (27,-1.9) (28,-3.0) (29,-2.2) (30,-4.0) (31,-2.2) (32,-3.0) (33,-2.0) (34,-3.6) (35,-2.8) (36,-4.4) (37,-2.2) (38,-3.4) (39,-4.8) (40,-2.8) (41,-4.0) (43,-3.2) (45,-4.4) (47,-3.0) (49,-2.4) (51,-3.4) (53,-4.0) (55,-3.0) (58,-2.6) (60,-4.2) (63,-3.6) (65,-2.0) (67,-4.8) (71,-3.0) (75,-2.8) (82,-3.0) (86,-4.6) (91,-3.6) (96,-4.0) (103,-3.8) (111,-4.4) (115,-3.8)
};
\addplot[red line] coordinates {
(0,0.25) (3.4,-0.4) (8.5,-1.1) (15,-2.0) (22.7,-2.7) (30.4,-3.2) (40.8,-3.45) (61.4,-3.45) (82,-3.63) (100,-3.8) (118,-3.9) (136,-3.9)
};
\addplot[red dots] coordinates {
(141,-4.24) (143.4,-4.06) (155.5,-4.06) (165.8,-4.28) (184.4,-4.35) (207.6,-4.6) (214.3,-4.68) (229,-4.78) (293.5,-4.96)
};
\axlines
\end{axis}

% ---------- Cape Town (temperature) ----------
\begin{axis}[panel, at={(278.5pt,-476.5pt)}, width=206pt, height=116.5pt,
  xmin=10, xmax=24, xtick={10,13,16,19,22}, ymin=-10, ymax=15, ytick={-10,-5,...,15}]
\addplot[gray pts] coordinates {
(10.15,-4.42) (10.66,-5.54) (10.77,-2.73) (11.05,-2.37) (11.74,-1.19) (12.08,-0.5) (11.3,-4.9) (11.45,-5.14) (11.94,-5.25) (10.9,-3.5) (11.2,-3.9) (11.4,-3.1) (11.5,-4.3) (11.6,-3.6) (11.7,-2.8) (11.8,-4.6) (11.9,-3.3) (12.0,-2.6) (12.0,-4.0) (11.1,-3.0) (11.6,-4.8)
(13.06,1.33) (12.98,-5.32) (13.15,-5.86) (13.9,-5.72) (14.1,-5.54) (12.47,-2.37) (12.64,-1.19) (12.9,-1.3) (12.98,-1.48) (13.38,-1.12) (13.49,-1.3) (12.2,-3.4) (12.3,-2.2) (12.4,-4.0) (12.5,-3.0) (12.6,-3.6) (12.7,-2.5) (12.8,-4.5) (12.9,-3.3) (13.0,-2.0) (13.1,-3.8) (13.2,-4.6) (13.3,-2.6) (13.4,-3.5) (13.5,-4.2) (13.6,-1.6) (13.7,-3.0) (13.8,-4.4) (13.9,-2.4) (14.0,-3.5) (14.1,-1.8) (14.2,-4.1) (14.3,-2.8) (14.4,-3.6) (12.6,-4.9) (13.6,-5.0) (13.8,-3.8) (12.1,-3.0) (13.2,-2.2) (14.2,-2.3)
(15.17,0.97) (15.25,-6.15) (15.65,-6.26) (16.08,0.61) (16.27,0.79) (17.37,-6.26) (17.37,0.43) (17.58,1.22) (17.77,1.22) (18.88,1.58) (18.88,-4.71) (14.51,-1.55) (14.74,-0.94) (14.65,-3.99) (14.97,-4.53) (15.53,-1.3) (15.65,-1.12) (15.97,-4.78) (16.44,-4.71) (16.55,-4.78) (16.87,-3.63) (17.69,-4.42) (18.05,-3.1) (18.09,-4.17) (18.09,-0.04) (18.26,-0.4) (14.8,-2.5) (15.0,-1.6) (15.2,-3.3) (15.4,-2.0) (15.6,-3.8) (15.8,-1.8) (16.0,-3.0) (16.2,-2.2) (16.4,-3.6) (16.6,-1.2) (16.8,-2.6) (17.0,-1.4) (17.2,-3.4) (17.4,-2.0) (17.6,-3.3) (17.8,-1.6) (18.0,-2.6) (18.2,-1.2) (18.4,-2.4) (18.5,-0.8) (18.6,-2.0) (18.8,-0.3) (18.9,-1.4) (15.8,-4.1) (16.5,-0.9) (17.0,-4.0) (17.5,-1.1) (18.3,-3.3)
(19.05,-4.42) (19.64,-5.54) (19.79,-5.36) (20.07,1.15) (20.56,3.13) (20.47,-4.64) (20.64,-3.45) (20.18,-3.27) (20.47,-1.76) (19.1,-0.6) (19.2,-2.5) (19.3,-1.5) (19.4,-1.0) (19.5,-2.2) (19.6,-0.8) (19.7,-3.0) (19.8,-2.0) (19.9,-1.4) (20.0,-3.2) (20.1,0.3) (20.2,-2.4) (20.3,-0.2) (20.4,-2.7) (20.5,0.2) (20.6,-3.0) (19.9,-4.0) (20.3,-4.2) (19.6,-1.8) (20.0,-0.5) (20.2,-1.3)
(20.96,1.58) (21.26,3.02) (21.29,2.55) (21.38,2.05) (21.66,4.57) (22.06,5.18) (22.28,2.77) (22.57,3.85) (22.28,0.4) (21.98,-2.01) (21.58,-0.68) (21.38,-3.27) (21.58,-3.27) (21.07,-3.09) (21.05,-1.2) (23.3,13.7)
(10.7,-3.2) (10.9,-4.0) (11.0,-3.7) (11.2,-2.8) (11.3,-3.5) (11.5,-3.3) (11.7,-3.9) (11.8,-2.6) (11.9,-4.3) (12.1,-3.8) (12.3,-4.4) (12.4,-2.8) (12.5,-4.8) (12.7,-3.2) (12.8,-2.0) (12.9,-4.0) (13.0,-3.0) (13.1,-2.5) (13.3,-3.9) (13.4,-2.3) (13.5,-3.0) (13.7,-4.0) (13.8,-2.5) (14.0,-4.4) (14.1,-3.1) (14.3,-3.8) (14.4,-2.5) (14.6,-3.0) (14.9,-3.6) (15.3,-2.6) (15.7,-2.9) (16.1,-3.8) (16.5,-2.0) (16.9,-3.0) (17.3,-2.6) (17.7,-2.4) (18.1,-2.0) (18.5,-1.6) (18.9,-2.8) (19.3,-2.0) (19.7,-1.2) (20.1,-1.8) (20.4,-0.6) (19.4,-3.8) (20.6,-0.9)
};
\addplot[red line] coordinates {
(10.64,-3.53) (11.1,-3.35) (12.25,-3.1) (13.38,-2.91) (14.5,-2.8) (15.65,-2.55) (16.55,-2.3) (17.46,-2.12) (18.37,-1.83) (19.05,-1.47) (19.62,-0.94) (20.18,-0.58) (20.73,-0.4)
};
\addplot[red dots] coordinates {
(10.15,-3.63) (20.92,-0.14) (21.1,0.07) (21.26,0.22) (21.43,0.4) (21.6,0.68) (21.72,0.5) (21.94,1.04) (22.06,0.86) (22.28,1.33) (22.57,1.51) (23.28,1.22)
};
\axlines
\end{axis}

% ---------- titles and labels ----------
\begin{scope}[every node/.style={anchor=base, font=\ttlfont, inner sep=0pt}]
\node at (125pt,-22.5pt) {\textcolor{ttl}{\bfseries Grimsel} (\textit{R}²=64\%)};
\node at (376pt,-24pt) {\textcolor{ttl}{\bfseries Vienna} (\textit{R}²=59\%)};
\node at (134.5pt,-179pt) {\textcolor{ttl}{\bfseries Ascencion Island} (\textit{R}²=35\%)};
\node at (386.5pt,-180.5pt) {\textcolor{ttl}{\bfseries Bangkok} (\textit{R}²=44\%)};
\node at (147.5pt,-335.5pt) {\textcolor{ttl}{\bfseries Hong Kong} (\textit{R}²=46\%)};
\node at (394pt,-334pt) {\textcolor{ttl}{\bfseries Hong Kong} (\textit{R}²=49\%)};
\node at (141.5pt,-493.5pt) {\textcolor{ttl}{\bfseries Cape Town} (\textit{R}²=34\%)};
\node at (388pt,-493.5pt) {\textcolor{ttl}{\bfseries Cape Town} (\textit{R}²=28\%)};
\end{scope}
\begin{scope}[every node/.style={anchor=base, font=\labfont, inner sep=0pt}]
\node at (131pt,-146.5pt) {Temperature (°C)};
\node at (380pt,-150pt) {Temperature (°C)};
\node at (139pt,-307.5pt) {Precipitation (mm)};
\node at (378pt,-307.5pt) {Precipitation (mm)};
\node at (142.5pt,-462.5pt) {Precipitation (mm)};
\node at (381pt,-462pt) {Temperature (°C)};
\node at (140pt,-616.5pt) {Precipitation (mm)};
\node at (381pt,-617pt) {Temperature (°C)};
\end{scope}
\begin{scope}[every node/.style={anchor=center, rotate=90, font=\labfont, inner sep=0pt}]
\node at (12.5pt,-66pt) {δ\textsuperscript{18}O (‰)};
\node at (15.5pt,-231.5pt) {δ\textsuperscript{18}O (‰)};
\node at (13pt,-378.5pt) {δ\textsuperscript{18}O (‰)};
\node at (14.5pt,-529pt) {δ\textsuperscript{18}O (‰)};
\end{scope}
\end{tikzpicture}
\end{document}
